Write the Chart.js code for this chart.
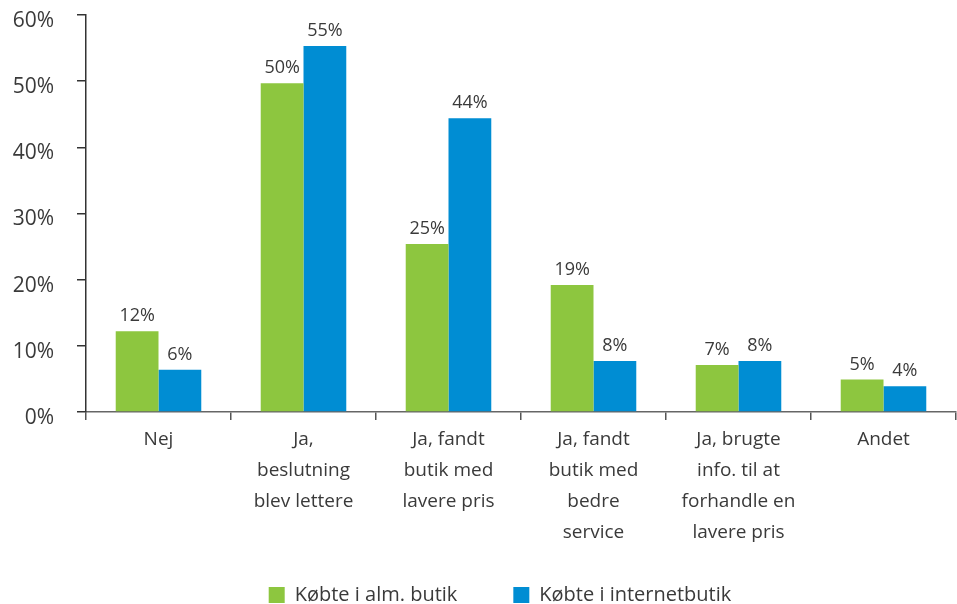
<!DOCTYPE html>
<html>
<head>
<meta charset="utf-8">
<title>Købte i butik</title>
<script src="https://cdn.jsdelivr.net/npm/chart.js@4.4.1/dist/chart.umd.min.js"></script>
<style>
  html, body { margin: 0; padding: 0; background: #fff; overflow: hidden; }
</style>
</head>
<body>
<canvas id="chart" width="957" height="604"></canvas>
<script>
const categories = [
  "Nej",
  ["Ja,", "beslutning", "blev lettere"],
  ["Ja, fandt", "butik med", "lavere pris"],
  ["Ja, fandt", "butik med", "bedre", "service"],
  ["Ja, brugte", "info. til at", "forhandle en", "lavere pris"],
  "Andet"
];
const seriesNames = ["Købte i alm. butik", "Købte i internetbutik"];
const almButik = [12.2, 49.7, 25.4, 19.2, 7.1, 4.9];
const internetButik = [6.4, 55.3, 44.4, 7.7, 7.7, 3.9];
const yTicks = [0, 10, 20, 30, 40, 50, 60];

const TEXT = "#3a3a3a";
const FONT = "'Open Sans', 'Noto Sans', sans-serif";

// value labels above each bar
const barLabels = {
  id: "barLabels",
  afterDatasetsDraw(chart) {
    const ctx = chart.ctx;
    ctx.save();
    ctx.font = "18px " + FONT;
    ctx.fillStyle = TEXT;
    ctx.textAlign = "center";
    ctx.textBaseline = "alphabetic";
    chart.data.datasets.forEach((ds, i) => {
      chart.getDatasetMeta(i).data.forEach((bar, j) => {
        ctx.fillText(Math.round(ds.data[j]) + "%", bar.x, bar.y - 10);
      });
    });
    ctx.restore();
  }
};

// nudge the legend row a little to the right of the canvas centre
const legendNudge = {
  id: "legendNudge",
  afterLayout(chart) {
    chart.legend.left += 22;
    chart.legend.right += 22;
  }
};

new Chart(document.getElementById("chart"), {
  type: "bar",
  data: {
    labels: categories,
    datasets: [
      { label: seriesNames[0], data: almButik, backgroundColor: "#8dc63f" },
      { label: seriesNames[1], data: internetButik, backgroundColor: "#008dd3" }
    ]
  },
  options: {
    responsive: false,
    animation: false,
    layout: { padding: { top: 15, right: 1, left: 0, bottom: 0 } },
    datasets: { bar: { barPercentage: 1, categoryPercentage: 0.59 } },
    plugins: {
      tooltip: { enabled: false },
      legend: {
        position: "bottom",
        maxHeight: 75,
        labels: {
          color: TEXT,
          font: { family: FONT, size: 20 },
          boxWidth: 16,
          boxHeight: 16,
          padding: 56
        }
      }
    },
    scales: {
      x: {
        grid: { offset: true, drawOnChartArea: false, tickLength: 8, color: "#555", lineWidth: 1.5 },
        border: { color: "#666", width: 1.5 },
        // mirrored ticks are not clipped to the axis box, so the long labels can run below it
        ticks: { color: TEXT, font: { family: FONT, size: 19, lineHeight: 1.63 }, mirror: true, padding: -43, maxRotation: 0, autoSkip: false },
        afterFit: s => { s.height = 117; }
      },
      y: {
        min: 0,
        max: 60,
        afterBuildTicks: s => { s.ticks = yTicks.map(v => ({ value: v })); },
        grid: { drawOnChartArea: false, tickLength: 9, color: "#333", lineWidth: 1.5 },
        border: { color: "#333", width: 1.5 },
        ticks: { color: TEXT, font: { family: FONT, size: 21 }, padding: 23, labelOffset: 6, callback: v => v + "%" },
        afterFit: s => { s.width = 86; s.paddingTop = 0; s.paddingBottom = 0; }
      }
    }
  },
  plugins: [barLabels, legendNudge]
});
</script>
</body>
</html>
